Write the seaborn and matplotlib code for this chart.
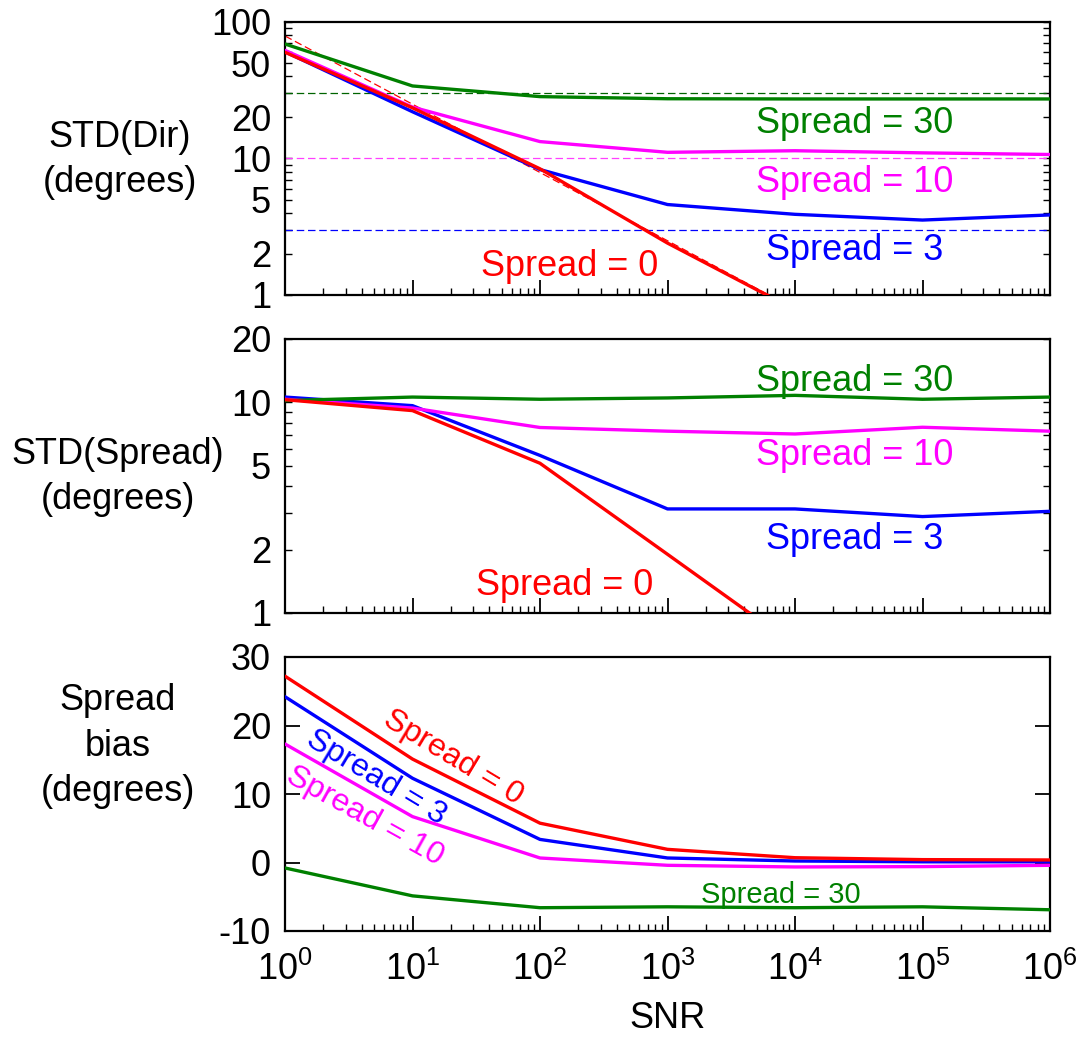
import numpy as np
import pandas as pd
import matplotlib
matplotlib.use("Agg")
import matplotlib.pyplot as plt
import matplotlib.ticker as mticker
import seaborn as sns

# ---- data -------------------------------------------------------------
snr = [1, 10, 100, 1000, 1e4, 1e5, 1e6]
spreads = [0, 3, 10, 30]

std_dir = {
    0: [60, 23.5, 8.4, 2.4, 0.78, np.nan, np.nan],
    3: [60.5, 22, 8.3, 4.6, 3.9, 3.54, 3.86],
    10: [62, 23.8, 13.3, 11.1, 11.4, 11.0, 10.7],
    30: [69, 34, 28.4, 27.4, 27.3, 27.3, 27.3],
}
std_spread = {
    0: [10.3, 9.14, 5.14, 1.9, 0.70, np.nan, np.nan],
    3: [10.6, 9.65, 5.6, 3.12, 3.12, 2.87, 3.04],
    10: [10.35, 9.4, 7.6, 7.3, 7.08, 7.62, 7.3],
    30: [10.2, 10.6, 10.35, 10.5, 10.8, 10.35, 10.6],
}
spread_bias = {
    0: [27.2, 15.1, 5.74, 1.92, 0.7, 0.42, 0.37],
    3: [24.2, 12.3, 3.37, 0.66, 0.22, 0.1, 0.1],
    10: [17.3, 6.7, 0.66, -0.41, -0.65, -0.6, -0.41],
    30: [-0.8, -4.87, -6.6, -6.47, -6.6, -6.47, -6.9],
}

# lower bound for the direction estimate (spread = 0), straight on log-log axes
bound_snr = [1, 1e6]
bound_dir = [79, 0.079]

colors = {0: "#ff0000", 3: "#0000ff", 10: "#ff00ff", 30: "#008000"}
dash_colors = {3: "#0000ff", 10: "#ff40ff", 30: "#006400"}
draw_order = [3, 10, 30, 0]

rows = []
for s in spreads:
    for i, x in enumerate(snr):
        rows.append(dict(SNR=x, spread=s, std_dir=std_dir[s][i],
                         std_spread=std_spread[s][i], bias=spread_bias[s][i]))
df = pd.DataFrame(rows)
bound = pd.DataFrame(dict(SNR=bound_snr, value=bound_dir))

# ---- style ------------------------------------------------------------
sns.set_style("white")
plt.rcParams["font.family"] = ["Liberation Sans", "DejaVu Sans"]
plt.rcParams["mathtext.fontset"] = "custom"
plt.rcParams["mathtext.rm"] = "Liberation Sans"
plt.rcParams["mathtext.it"] = "Liberation Sans"
plt.rcParams["axes.unicode_minus"] = False
for key in ["text.color", "axes.labelcolor", "xtick.color", "ytick.color", "axes.edgecolor"]:
    plt.rcParams[key] = "black"

FS = 26
W, H = 1086, 1040
fig = plt.figure(figsize=(W / 100, H / 100), dpi=100)


def box(left, top, right, bottom):
    return [left / W, 1 - bottom / H, (right - left) / W, (bottom - top) / H]


ax1 = fig.add_axes(box(285, 22, 1050, 295))
ax2 = fig.add_axes(box(285, 339, 1050, 613))
ax3 = fig.add_axes(box(285, 657, 1050, 931))

for ax, col in [(ax1, "std_dir"), (ax2, "std_spread"), (ax3, "bias")]:
    ax.set_xscale("log")
    if ax is not ax3:
        ax.set_yscale("log")
    sns.lineplot(data=df, x="SNR", y=col, hue="spread", hue_order=draw_order,
                 palette=colors, estimator=None, linewidth=2.4, legend=False,
                 ax=ax, zorder=3)
    ax.set_xlim(1, 1e6)
    ax.set_xlabel("")
    ax.set_ylabel("")
    for sp in ax.spines.values():
        sp.set_linewidth(1.6)
        sp.set_color("black")
    ax.xaxis.set_major_locator(mticker.FixedLocator([10.0 ** k for k in range(7)]))
    ax.xaxis.set_minor_locator(mticker.LogLocator(base=10, subs=np.arange(2, 10), numticks=100))
    ax.tick_params(axis="x", which="major", direction="in", length=11, width=1.3,
                   bottom=True, top=False)
    ax.tick_params(axis="x", which="minor", direction="in", length=5, width=1.0,
                   bottom=True, top=False)
    ax.tick_params(axis="y", which="both", direction="in", left=True, right=True,
                   labelsize=FS, pad=10)
    ax.tick_params(axis="y", which="minor", length=5, width=1.0)

# dashed reference levels in the top panel
for s in [30, 10, 3]:
    ax1.axhline(s, color=dash_colors[s], linestyle=(0, (6, 3)), linewidth=0.9, zorder=2)
sns.lineplot(data=bound, x="SNR", y="value", color="#ff0000", linewidth=0.9,
             linestyle=(0, (6, 3)), ax=ax1, zorder=2)
ax1.set_xlabel("")
ax1.set_ylabel("")

# y axes
ax1.set_ylim(1, 100)
ax1.yaxis.set_major_locator(mticker.FixedLocator([1, 2, 5, 10, 20, 50, 100]))
ax1.yaxis.set_major_formatter(mticker.FixedFormatter(["1", "2", "5", "10", "20", "50", "100"]))
ax1.yaxis.set_minor_locator(mticker.LogLocator(base=10, subs=np.arange(2, 10), numticks=100))
ax1.yaxis.set_minor_formatter(mticker.NullFormatter())
ax1.tick_params(axis="y", which="major", length=5, width=1.0)

ax2.set_ylim(1, 20)
ax2.yaxis.set_major_locator(mticker.FixedLocator([1, 2, 5, 10, 20]))
ax2.yaxis.set_major_formatter(mticker.FixedFormatter(["1", "2", "5", "10", "20"]))
ax2.yaxis.set_minor_locator(mticker.LogLocator(base=10, subs=np.arange(2, 10), numticks=100))
ax2.yaxis.set_minor_formatter(mticker.NullFormatter())
ax2.tick_params(axis="y", which="major", length=5, width=1.0)

ax3.set_ylim(-10, 30)
ax3.set_yticks([-10, 0, 10, 20, 30])
ax3.set_yticklabels(["-10", "0", "10", "20", "30"])
ax3.tick_params(axis="y", which="major", length=11, width=1.3)

for ax in (ax1, ax2):
    ax.tick_params(axis="x", labelbottom=False)
ax3.set_xticklabels([r"$\mathregular{10^{%d}}$" % k for k in range(7)])
ax3.tick_params(axis="x", which="major", labelsize=FS, pad=15)

# curve labels
kw = dict(ha="center", va="baseline", fontsize=FS)
ax1.text(10 ** 4.47, 15.4, "Spread = 30", color=colors[30], **kw)
ax1.text(10 ** 4.47, 5.65, "Spread = 10", color=colors[10], **kw)
ax1.text(10 ** 4.47, 1.80, "Spread = 3", color=colors[3], **kw)
ax1.text(172, 1.38, "Spread = 0", color=colors[0], **kw)

ax2.text(10 ** 4.47, 11.3, "Spread = 30", color=colors[30], **kw)
ax2.text(10 ** 4.47, 5.04, "Spread = 10", color=colors[10], **kw)
ax2.text(10 ** 4.47, 2.007, "Spread = 3", color=colors[3], **kw)
ax2.text(157, 1.218, "Spread = 0", color=colors[0], **kw)

rk = dict(ha="center", va="center", fontsize=23, rotation_mode="anchor")
ax3.text(20.8, 15.3, "Spread = 0", color=colors[0], rotation=-31, **rk)
ax3.text(5.17, 12.4, "Spread = 3", color=colors[3], rotation=-31, **rk)
ax3.text(4.24, 6.7, "Spread = 10", color=colors[10], rotation=-29, **rk)
ax3.text(7770, -5.95, "Spread = 30", color=colors[30], ha="center", va="baseline",
         fontsize=21)

# panel titles on the left and the shared x label
lk = dict(ha="center", va="center", fontsize=FS, linespacing=1.38)
fig.text(120 / W, 1 - 160 / H, "STD(Dir)\n(degrees)", **lk)
fig.text(118 / W, 1 - 477 / H, "STD(Spread)\n(degrees)", **lk)
fig.text(118 / W, 1 - 746 / H, "Spread\nbias\n(degrees)", **lk)
fig.text(668 / W, 1 - 1018 / H, "SNR", ha="center", va="center", fontsize=FS)

fig.savefig("out.png", dpi=100, facecolor="white")
